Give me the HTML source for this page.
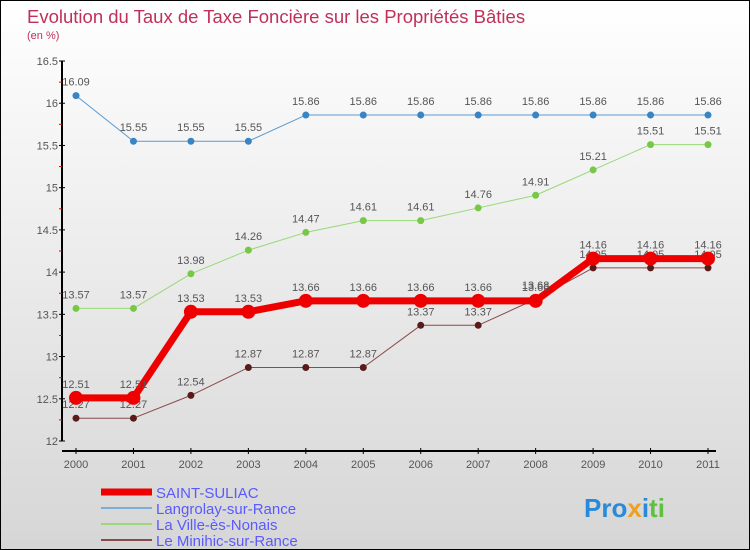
<!DOCTYPE html>
<html><head><meta charset="utf-8"><style>
body{margin:0}
#c{width:750px;height:550px;position:relative;box-sizing:border-box;border:1px solid #000;background:linear-gradient(#fff,#d6d6d6);font-family:"Liberation Sans",sans-serif;overflow:hidden}
svg text{font-family:"Liberation Sans",sans-serif}
</style></head><body>
<div id="c">
<svg id="s" width="750" height="550">
<text x="26" y="22" font-size="18.5" fill="#c0305a">Evolution du Taux de Taxe Foncière sur les Propriétés Bâties</text>
<text x="26" y="38" font-size="11" fill="#c0305a">(en %)</text>
<g id="axes"></g><g id="series"></g>
<g>
<line x1="100" y1="491" x2="151" y2="491" stroke="#e00" stroke-width="7"/>
<text x="155" y="497" font-size="15" fill="#5a5aff">SAINT-SULIAC</text>
<line x1="100" y1="507" x2="151" y2="507" stroke="#7aaed8" stroke-width="2"/>
<text x="155" y="513" font-size="15" fill="#5a5aff">Langrolay-sur-Rance</text>
<line x1="100" y1="523" x2="151" y2="523" stroke="#9ad87a" stroke-width="2"/>
<text x="155" y="529" font-size="15" fill="#5a5aff">La Ville-ès-Nonais</text>
<line x1="100" y1="539" x2="151" y2="539" stroke="#8a4a4a" stroke-width="2"/>
<text x="155" y="545" font-size="15" fill="#5a5aff">Le Minihic-sur-Rance</text>
</g>
<text x="583" y="516" font-size="26" font-weight="bold"><tspan fill="#2a8ad8">Pro</tspan><tspan fill="#f0a020">x</tspan><tspan fill="#2a8ad8">i</tspan><tspan fill="#60c040">ti</tspan></text>
</svg></div>
<script>
const years=["2000","2001","2002","2003","2004","2005","2006","2007","2008","2009","2010","2011"];
const yTicks=[12,12.5,13,13.5,14,14.5,15,15.5,16,16.5];
const saintSuliac=[12.51,12.51,13.53,13.53,13.66,13.66,13.66,13.66,13.66,14.16,14.16,14.16];
const langrolay=[16.09,15.55,15.55,15.55,15.86,15.86,15.86,15.86,15.86,15.86,15.86,15.86];
const villeEsNonais=[13.57,13.57,13.98,14.26,14.47,14.61,14.61,14.76,14.91,15.21,15.51,15.51];
const minihic=[12.27,12.27,12.54,12.87,12.87,12.87,13.37,13.37,13.68,14.05,14.05,14.05];
const NS="http://www.w3.org/2000/svg";
const X=i=>75+i*(707-75)/11;
const Y=v=>440-(v-12)/4.5*380;
function mk(t,a,p){const e=document.createElementNS(NS,t);for(const k in a)e.setAttribute(k,a[k]);p.appendChild(e);return e;}
const ax=document.getElementById('axes');
let l=mk('line',{x1:61,y1:60,x2:61,y2:440,stroke:'#000','stroke-width':2},ax);


l=mk('line',{x1:61,y1:450,x2:715,y2:450,stroke:'#000','stroke-width':2},ax);


yTicks.forEach((v,i)=>{
 mk('line',{x1:58,y1:Y(v),x2:64,y2:Y(v),stroke:'#000'},ax);
 if(i<yTicks.length-1)mk('line',{x1:58,y1:Y(v+0.25),x2:61,y2:Y(v+0.25),stroke:'#e00'},ax);
 const t=mk('text',{x:57,y:Y(v)+4,'font-size':11,'text-anchor':'end',fill:'#555'},ax);
 t.textContent=String(v);
 
 
});
years.forEach((y,i)=>{
 mk('line',{x1:X(i),y1:447,x2:X(i),y2:453,stroke:'#000'},ax);
 const t=mk('text',{x:X(i),y:467,'font-size':11,'text-anchor':'middle',fill:'#555'},ax);
 t.textContent=y;
 
 
});
const sg=document.getElementById('series');
function series(vals,name,col,w,r,pc){
 const g=mk('g',{},sg);
 
 
 mk('polyline',{points:vals.map((v,i)=>X(i)+','+Y(v)).join(' '),fill:'none',stroke:col,'stroke-width':w,'stroke-linejoin':'round'},g);
 vals.forEach((v,i)=>{
  const c=mk('circle',{cx:X(i),cy:Y(v),r:r,fill:pc},g);
  
  
  const t=mk('text',{x:X(i),y:Y(v)-10,'font-size':11,'text-anchor':'middle',fill:'#555'},g);
  t.textContent=v.toFixed(2);
 });
}
series(langrolay,'langrolay','#5a9ad0',1,3.5,'#3a84c4');
series(villeEsNonais,'ville-es-nonais','#98d878',1,3.5,'#78c848');
series(minihic,'minihic','#8a4a4a',1,3.5,'#5a1a1a');
series(saintSuliac,'saint-suliac','#e00',7,7,'#e00');
</script>
</body></html>
